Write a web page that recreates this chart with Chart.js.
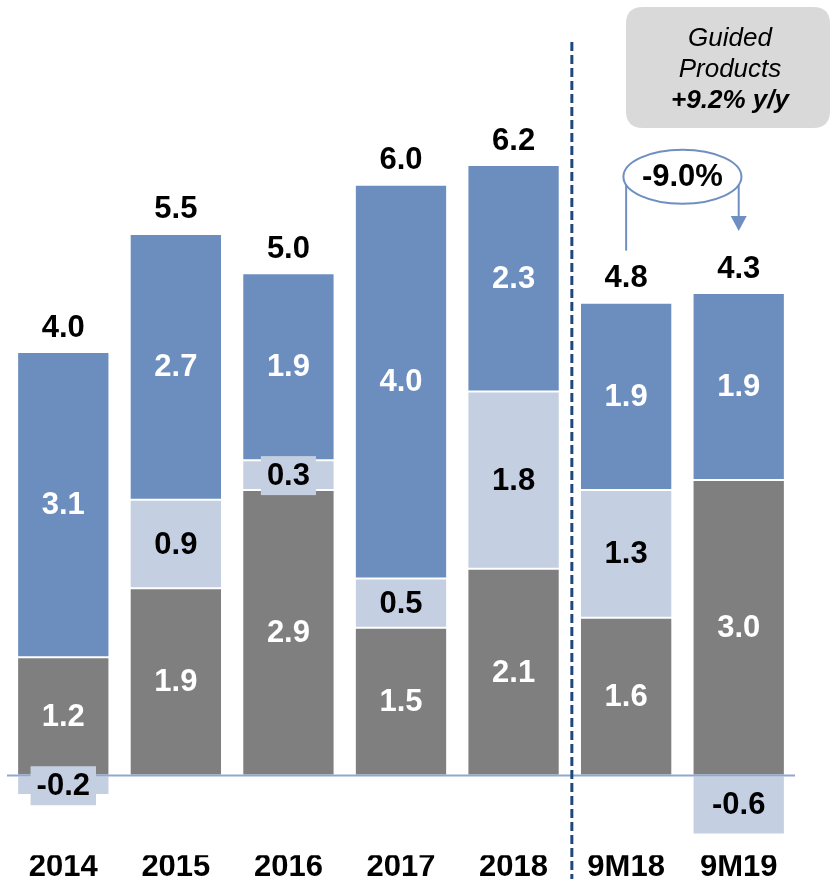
<!DOCTYPE html>
<html>
<head>
<meta charset="utf-8">
<script src="https://cdn.jsdelivr.net/npm/chart.js@4.4.1/dist/chart.umd.min.js"></script>
<style>
  html, body { margin: 0; padding: 0; background: #fff; }
  canvas { display: block; }
</style>
</head>
<body>
<canvas id="c" width="831" height="879"></canvas>
<script>
const periods = ["2014", "2015", "2016", "2017", "2018", "9M18", "9M19"];
const greyVals = [1.2, 1.9, 2.9, 1.5, 2.1, 1.6, 3.0];
const lightVals = [-0.2, 0.9, 0.3, 0.5, 1.8, 1.3, -0.6];
const blueVals = [3.1, 2.7, 1.9, 4.0, 2.3, 1.9, 1.9];
const totals = [4.0, 5.5, 5.0, 6.0, 6.2, 4.8, 4.3];
const changeText = "-9.0%";
const noteLines = ["Guided", "Products", "+9.2% y/y"];

const FONT = "'Liberation Sans', Arial, sans-serif";
const BLUE = "#6c8ebf";
const LIGHT = "#c4cfe2";
const GREY = "#7f7f7f";

function roundRect(ctx, x, y, w, h, r) {
  ctx.beginPath();
  ctx.moveTo(x + r, y);
  ctx.lineTo(x + w - r, y);
  ctx.quadraticCurveTo(x + w, y, x + w, y + r);
  ctx.lineTo(x + w, y + h - r);
  ctx.quadraticCurveTo(x + w, y + h, x + w - r, y + h);
  ctx.lineTo(x + r, y + h);
  ctx.quadraticCurveTo(x, y + h, x, y + h - r);
  ctx.lineTo(x, y + r);
  ctx.quadraticCurveTo(x, y, x + r, y);
  ctx.closePath();
}

const labelsPlugin = {
  id: "labels",
  afterDatasetsDraw(chart) {
    const ctx = chart.ctx;
    const area = chart.chartArea;
    const ys = chart.scales.y;
    const xs = chart.scales.x;
    const y0 = ys.getPixelForValue(0);

    // zero line
    ctx.save();
    ctx.strokeStyle = "#8fa8d2";
    ctx.lineWidth = 2;
    ctx.beginPath();
    ctx.moveTo(area.left, y0);
    ctx.lineTo(area.right, y0);
    ctx.stroke();

    // segment labels
    ctx.font = "bold 31px " + FONT;
    ctx.textAlign = "center";
    ctx.textBaseline = "middle";
    chart.data.datasets.forEach((ds, di) => {
      const meta = chart.getDatasetMeta(di);
      meta.data.forEach((el, i) => {
        const v = ds.data[i];
        const cy = (el.y + el.base) / 2;
        const txt = v.toFixed(1);
        if (di === 1) {
          const w = ctx.measureText(txt).width + 12;
          ctx.fillStyle = LIGHT;
          ctx.fillRect(el.x - w / 2, cy - 19, w, 39);
          ctx.fillStyle = "#000";
        } else {
          ctx.fillStyle = "#fff";
        }
        ctx.fillText(txt, el.x, cy + 1);
      });
    });

    // totals above bars
    const topMeta = chart.getDatasetMeta(2);
    ctx.fillStyle = "#000";
    topMeta.data.forEach((el, i) => {
      ctx.fillText(totals[i].toFixed(1), el.x, el.y - 24);
    });

    // dashed divider between 2018 and 9M18
    const xDiv = (xs.getPixelForValue(4) + xs.getPixelForValue(5)) / 2 + 2;
    ctx.strokeStyle = "#1f497d";
    ctx.lineWidth = 3;
    ctx.setLineDash([9, 4]);
    ctx.beginPath();
    ctx.moveTo(xDiv, 42);
    ctx.lineTo(xDiv, chart.height);
    ctx.stroke();
    ctx.setLineDash([]);

    // change bubble with arrow
    const xa = xs.getPixelForValue(5);
    const xb = xs.getPixelForValue(6);
    const cx = (xa + xb) / 2;
    const ey = ys.getPixelForValue(6.08);
    ctx.strokeStyle = "#6f8fc2";
    ctx.lineWidth = 2;
    ctx.beginPath();
    ctx.moveTo(xa, ys.getPixelForValue(5.33));
    ctx.lineTo(xa, ey + 6);
    ctx.stroke();
    const tipY = ys.getPixelForValue(5.53);
    ctx.beginPath();
    ctx.moveTo(xb, ey + 6);
    ctx.lineTo(xb, tipY - 12);
    ctx.stroke();
    ctx.fillStyle = "#6f8fc2";
    ctx.beginPath();
    ctx.moveTo(xb - 8, tipY - 15);
    ctx.lineTo(xb + 8, tipY - 15);
    ctx.lineTo(xb, tipY);
    ctx.closePath();
    ctx.fill();
    ctx.fillStyle = "#fff";
    ctx.beginPath();
    ctx.ellipse(cx, ey, 59, 27, 0, 0, Math.PI * 2);
    ctx.fill();
    ctx.stroke();
    ctx.fillStyle = "#000";
    ctx.fillText(changeText, cx, ey + 1);

    // note box
    ctx.fillStyle = "#d9d9d9";
    roundRect(ctx, 626, 7, 204, 121, 17);
    ctx.fill();
    ctx.fillStyle = "#000";
    ctx.font = "italic 26px " + FONT;
    ctx.fillText(noteLines[0], 730, 39);
    ctx.fillText(noteLines[1], 730, 70);
    ctx.font = "italic bold 26px " + FONT;
    ctx.fillText(noteLines[2], 730, 101);
    ctx.restore();
  }
};

const seg = (label, data, color) => ({
  label,
  data,
  backgroundColor: color,
  borderColor: "#ffffff",
  borderWidth: 1,
  borderSkipped: false,
  categoryPercentage: 0.82,
  barPercentage: 1.0,
});

new Chart(document.getElementById("c"), {
  type: "bar",
  data: {
    labels: periods,
    datasets: [
      seg("Other", greyVals, GREY),
      seg("Adjustments", lightVals, LIGHT),
      seg("Guided", blueVals, BLUE),
    ],
  },
  options: {
    responsive: false,
    animation: false,
    events: [],
    layout: { padding: { left: 7, right: 36, top: 37, bottom: 0 } },
    plugins: {
      legend: { display: false },
      tooltip: { enabled: false },
    },
    scales: {
      x: {
        stacked: true,
        grid: { display: false, drawTicks: false },
        border: { display: false },
        ticks: {
          color: "#000",
          padding: 0,
          font: { family: FONT, size: 31, weight: "bold", lineHeight: 0.77 },
        },
      },
      y: {
        stacked: true,
        display: false,
        min: -0.81,
        max: 7.5,
      },
    },
  },
  plugins: [labelsPlugin],
});
</script>
</body>
</html>
